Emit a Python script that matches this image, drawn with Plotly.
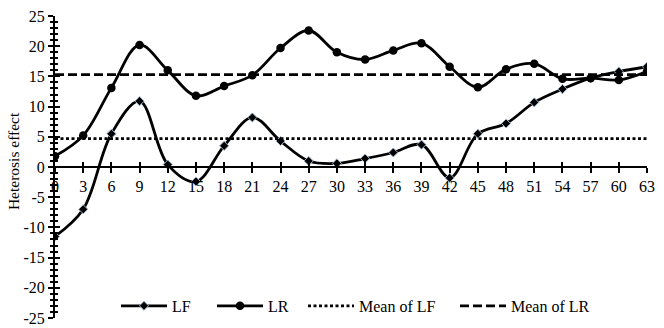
import plotly.graph_objects as go

days = [0, 3, 6, 9, 12, 15, 18, 21, 24, 27, 30, 33, 36, 39, 42, 45, 48, 51, 54, 57, 60, 63]
lf = [-11.5, -7.0, 5.5, 10.9, 0.4, -2.4, 3.5, 8.2, 4.3, 1.0, 0.6, 1.4, 2.4, 3.7, -1.8, 5.5, 7.2, 10.7, 12.9, 14.7, 15.8, 16.6]
lr = [1.8, 5.2, 13.1, 20.2, 16.0, 11.8, 13.4, 15.2, 19.7, 22.6, 19.0, 17.8, 19.3, 20.5, 16.6, 13.2, 16.2, 17.1, 14.6, 14.7, 14.4, 15.8]
mean_lf = 4.7
mean_lr = 15.3
y_ticks = [-25, -20, -15, -10, -5, 0, 5, 10, 15, 20, 25]
y_ticktext = ["-25", "-20", "-15", "-10", "-5", "0", "5", "10", "15", "20", "25"]
x_ticks = days

FONT = "Liberation Serif"

fig = go.Figure()
fig.add_trace(go.Scatter(
    x=days, y=lf, name="LF", mode="lines+markers", legend="legend",
    line=dict(color="black", width=2.8, shape="spline", smoothing=1.0),
    marker=dict(symbol="diamond", size=7, color="black", line=dict(color="#9fb4cc", width=1)),
))
fig.add_trace(go.Scatter(
    x=days, y=lr, name="LR", mode="lines+markers", legend="legend2",
    line=dict(color="black", width=2.8, shape="spline", smoothing=1.0),
    marker=dict(symbol="circle", size=8.5, color="black"),
))
fig.add_trace(go.Scatter(
    x=[days[0], days[-1]], y=[mean_lf, mean_lf], name="Mean of LF", mode="lines", legend="legend3",
    line=dict(color="black", width=2.8, dash="3px,2.5px"),
))
fig.add_trace(go.Scatter(
    x=[days[0], days[-1]], y=[mean_lr, mean_lr], name="Mean of LR", mode="lines", legend="legend4",
    line=dict(color="black", width=2.8, dash="9px,4px"),
))

def leg(xpx):
    return dict(x=(xpx - 55) / 592, y=0.04, xanchor="left", yanchor="middle",
                font=dict(family=FONT, size=16, color="black"), itemwidth=46,
                bgcolor="rgba(0,0,0,0)", borderwidth=0)

fig.update_layout(
    width=664, height=328,
    margin=dict(l=55, r=17, t=16, b=5),
    plot_bgcolor="white", paper_bgcolor="white",
    font=dict(family=FONT, size=16, color="black"),
    showlegend=True,
    legend=leg(116), legend2=leg(212), legend3=leg(303), legend4=leg(455),
    xaxis=dict(range=[0, 63], tickvals=x_ticks, ticktext=[str(v) for v in x_ticks],
               showgrid=False, zeroline=False, showline=True, linecolor="black", linewidth=2,
               anchor="free", position=0.5, ticks="outside", ticklen=5, tickwidth=2,
               tickcolor="black", tickfont=dict(family=FONT, size=16), automargin=False),
    xaxis2=dict(range=[0, 63], tickvals=x_ticks, showticklabels=False, overlaying="x",
                showgrid=False, zeroline=False, showline=False, anchor="free", position=0.5,
                ticks="inside", ticklen=5, tickwidth=2, tickcolor="black", automargin=False),
    yaxis=dict(range=[-25, 25], tickvals=y_ticks, ticktext=y_ticktext,
               showgrid=False, zeroline=False, showline=True, linecolor="black", linewidth=2,
               ticks="outside", ticklen=5, tickwidth=2, tickcolor="black",
               minor=dict(dtick=1, ticks="outside", ticklen=3, tickwidth=1.5, tickcolor="black"),
               tickfont=dict(family=FONT, size=16), automargin=False),
    yaxis2=dict(range=[-25, 25], tickvals=y_ticks, showticklabels=False, overlaying="y",
                showgrid=False, zeroline=False, showline=False,
                ticks="inside", ticklen=5, tickwidth=2, tickcolor="black", automargin=False,
                minor=dict(dtick=1, ticks="inside", ticklen=3, tickwidth=1.5, tickcolor="black")),
)
# invisible trace to activate overlay axes
fig.add_trace(go.Scatter(x=[0], y=[0], xaxis="x2", yaxis="y2", mode="markers",
                         marker=dict(opacity=0), showlegend=False, hoverinfo="skip"))

fig.add_annotation(text="Heterosis effect", xref="paper", yref="paper", x=-0.069, y=0.52,
                   textangle=-90, showarrow=False, font=dict(family=FONT, size=15.5),
                   xanchor="center", yanchor="middle")

fig.write_html("out.html", config={"displayModeBar": False},
               post_script="document.body.style.margin='0px';document.body.style.overflow='hidden';")
